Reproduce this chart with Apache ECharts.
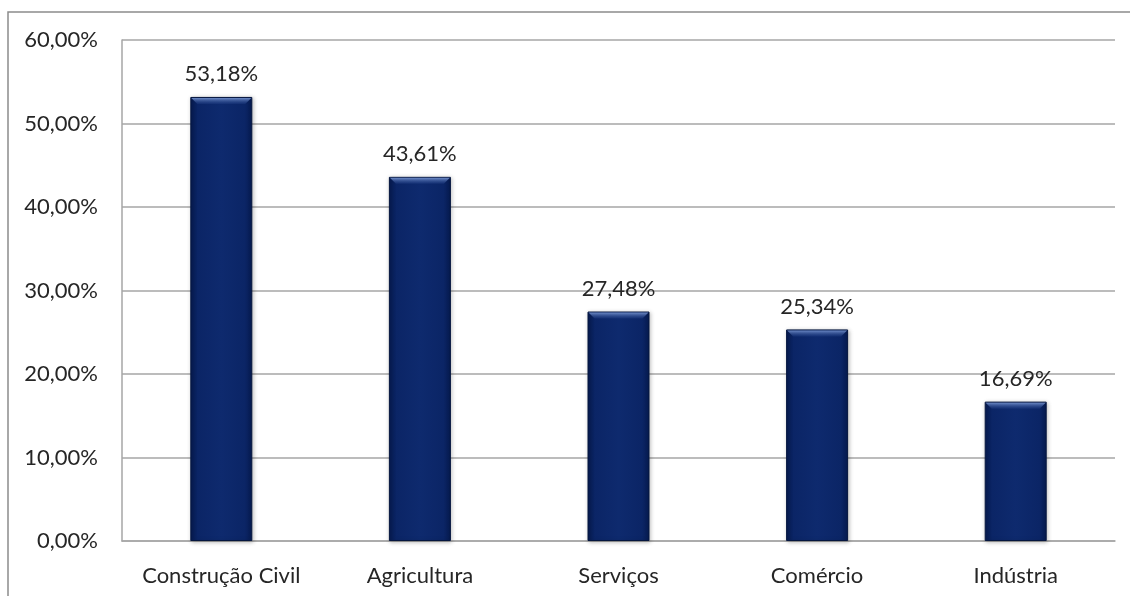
<!DOCTYPE html>
<html>
<head>
<meta charset="utf-8">
<script src="https://cdn.jsdelivr.net/npm/echarts@6/dist/echarts.min.js"></script>
<style>
  html, body { margin: 0; padding: 0; background: #fff; }
  #chart { width: 1130px; height: 596px; }
</style>
</head>
<body>
<div id="chart"></div>
<script>
// setores e percentuais
var categories = ['Construção Civil', 'Agricultura', 'Serviços', 'Comércio', 'Indústria'];
var values = [53.18, 43.61, 27.48, 25.34, 16.69];
var yTicks = [0, 10, 20, 30, 40, 50, 60];

var FONT = 'Lato, "Open Sans", sans-serif';
var TXT = '#262626';

function pct(v) {  // 53.18 -> 53,18%
    return v.toFixed(2).replace('.', ',') + '%';
}

var myChart = echarts.init(document.getElementById('chart'), null, { renderer: 'canvas' });

var barColor = {
    type: 'linear', x: 0, y: 0, x2: 1, y2: 0,
    colorStops: [
        { offset: 0, color: '#061a4f' },
        { offset: 0.12, color: '#0b2566' },
        { offset: 0.5, color: '#0e2a6e' },
        { offset: 0.88, color: '#0b2566' },
        { offset: 1, color: '#061a4f' }
    ]
};

var option = {
    backgroundColor: '#fff',
    animation: false,
    graphic: [
        {   // moldura
            type: 'polyline',
            shape: { points: [[8, 600], [8, 12], [1140, 12]] },
            style: { stroke: '#8c8c8c', lineWidth: 1.5, fill: null }
        }
    ],
    grid: { left: 122, right: 15, top: 40, bottom: 55 },
    xAxis: {
        type: 'category',
        data: categories,
        axisLine: { show: true, lineStyle: { color: '#a6a6a6', width: 1.5 } },
        axisTick: { show: false },
        axisLabel: { interval: 0, color: TXT, fontSize: 22, fontFamily: FONT, margin: 24 }
    },
    yAxis: {
        type: 'value',
        min: yTicks[0],
        max: yTicks[yTicks.length - 1],
        interval: 10,
        axisLine: { show: true, lineStyle: { color: '#a6a6a6', width: 1.5 } },
        axisTick: { show: false },
        splitLine: { lineStyle: { color: '#a6a6a6', width: 1.5 } },
        axisLabel: {
            color: TXT, fontSize: 22, fontFamily: FONT, margin: 24,
            formatter: function (v) { return pct(v); }
        }
    },
    series: [{
        type: 'bar',
        data: values,
        barWidth: 62,
        itemStyle: {
            color: barColor,
            borderColor: '#05163f',
            borderWidth: 1,
            shadowColor: 'rgba(0,0,0,0.25)',
            shadowBlur: 4,
            shadowOffsetX: 1,
            shadowOffsetY: 1
        },
        label: {
            show: true,
            position: 'top',
            distance: 12,
            color: TXT,
            fontSize: 22,
            fontFamily: FONT,
            formatter: function (p) { return pct(p.value); }
        }
    }, {
        // chanfro claro no topo das barras
        type: 'custom',
        silent: true,
        z: 4,
        data: values.map(function (v, i) { return [i, v]; }),
        renderItem: function (params, api) {
            var top = api.coord([api.value(0), api.value(1)]);
            var w = 62;
            var x0 = top[0] - w / 2;
            return {
                type: 'polygon',
                shape: { points: [[x0 + 1, top[1] + 1], [x0 + w - 1, top[1] + 1], [x0 + w - 7, top[1] + 7], [x0 + 7, top[1] + 7]] },
                style: {
                    fill: {
                        type: 'linear', x: 0, y: 0, x2: 0, y2: 1,
                        colorStops: [
                            { offset: 0, color: 'rgba(120,150,210,0.9)' },
                            { offset: 1, color: 'rgba(40,70,140,0.3)' }
                        ]
                    }
                }
            };
        }
    }]
};

myChart.setOption(option);
</script>
</body>
</html>
